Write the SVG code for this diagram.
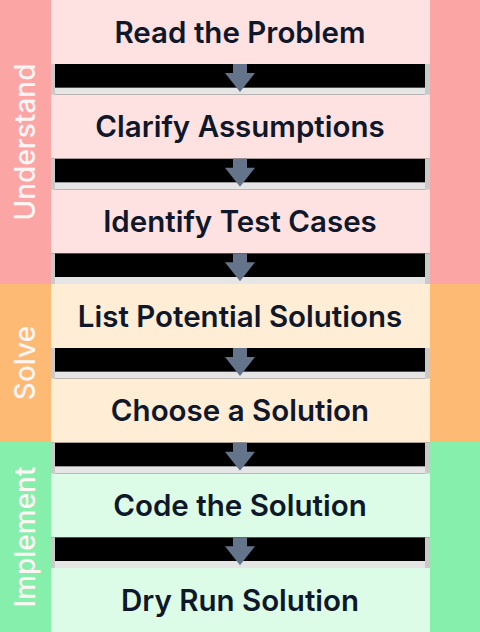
<svg xmlns="http://www.w3.org/2000/svg" width="480" height="632" viewBox="0 0 480 632">
<style>
.step{font-family:Inter,"Noto Sans","Liberation Sans",sans-serif;font-weight:600;font-size:29.5px;fill:#0f172a;text-anchor:middle}
.phase{font-family:Inter,"Noto Sans","Liberation Sans",sans-serif;font-weight:500;font-size:28px;fill:#fff5f5;text-anchor:middle}
.arrow{fill:#64748b}
.edge{fill:#e5e5e5}
.side{fill:#c9c9c9}
</style>
<defs>
<g id="arr">
<rect x="233" y="0" width="14" height="11" class="arrow"/>
<polygon points="225,9 255,9 240,28" class="arrow"/>
</g>
</defs>
<rect x="51" y="0" width="379" height="632" fill="#000"/>
<g id="gaps">
<rect x="51" y="87.67" width="379" height="7" class="edge"/>
<rect x="51" y="182.33" width="379" height="7" class="edge"/>
<rect x="51" y="277" width="379" height="7" class="edge"/>
<rect x="51" y="371.67" width="379" height="7" class="edge"/>
<rect x="51" y="466.33" width="379" height="7" class="edge"/>
<rect x="51" y="561" width="379" height="7" class="edge"/>
<rect x="51" y="64" width="4" height="31" class="side"/>
<rect x="51" y="158.67" width="4" height="31" class="side"/>
<rect x="51" y="253.33" width="4" height="31" class="side"/>
<rect x="51" y="348" width="4" height="31" class="side"/>
<rect x="51" y="442.67" width="4" height="31" class="side"/>
<rect x="51" y="537.33" width="4" height="31" class="side"/>
<rect x="425" y="64" width="5" height="31" class="side"/>
<rect x="425" y="158.67" width="5" height="31" class="side"/>
<rect x="425" y="253.33" width="5" height="31" class="side"/>
<rect x="425" y="348" width="5" height="31" class="side"/>
<rect x="425" y="442.67" width="5" height="31" class="side"/>
<rect x="425" y="537.33" width="5" height="31" class="side"/>
</g>
<g id="phase-understand">
<rect x="0" y="0" width="51" height="284" fill="#fca5a5"/>
<rect x="430" y="0" width="50" height="284" fill="#fca5a5"/>
<text class="phase" transform="translate(35,142) rotate(-90)">Understand</text>
</g>
<g id="phase-solve">
<rect x="0" y="284" width="51" height="158" fill="#fdba74"/>
<rect x="430" y="284" width="50" height="158" fill="#fdba74"/>
<text class="phase" transform="translate(35,363) rotate(-90)">Solve</text>
</g>
<g id="phase-implement">
<rect x="0" y="442" width="51" height="190" fill="#86efac"/>
<rect x="430" y="442" width="50" height="190" fill="#86efac"/>
<text class="phase" transform="translate(35,537) rotate(-90)">Implement</text>
</g>
<g id="step1"><rect x="51" y="0" width="379" height="64" fill="#fee2e2"/><text class="step" x="240" y="42.5">Read the Problem</text></g>
<g id="step2"><rect x="51" y="94.67" width="379" height="64" fill="#fee2e2"/><text class="step" x="240" y="137.2">Clarify Assumptions</text></g>
<g id="step3"><rect x="51" y="189.33" width="379" height="64" fill="#fee2e2"/><text class="step" x="240" y="231.8">Identify Test Cases</text></g>
<g id="step4"><rect x="51" y="284" width="379" height="64" fill="#ffedd5"/><text class="step" x="240" y="326.5">List Potential Solutions</text></g>
<g id="step5"><rect x="51" y="378.67" width="379" height="64" fill="#ffedd5"/><text class="step" x="240" y="421.2">Choose a Solution</text></g>
<g id="step6"><rect x="51" y="473.33" width="379" height="64" fill="#dcfce7"/><text class="step" x="240" y="515.8">Code the Solution</text></g>
<g id="step7"><rect x="51" y="568" width="379" height="64" fill="#dcfce7"/><text class="step" x="240" y="610.5">Dry Run Solution</text></g>
<g id="connectors">
<use href="#arr" y="64"/>
<use href="#arr" y="158.67"/>
<use href="#arr" y="253.33"/>
<use href="#arr" y="348"/>
<use href="#arr" y="442.67"/>
<use href="#arr" y="537.33"/>
</g>
</svg>
